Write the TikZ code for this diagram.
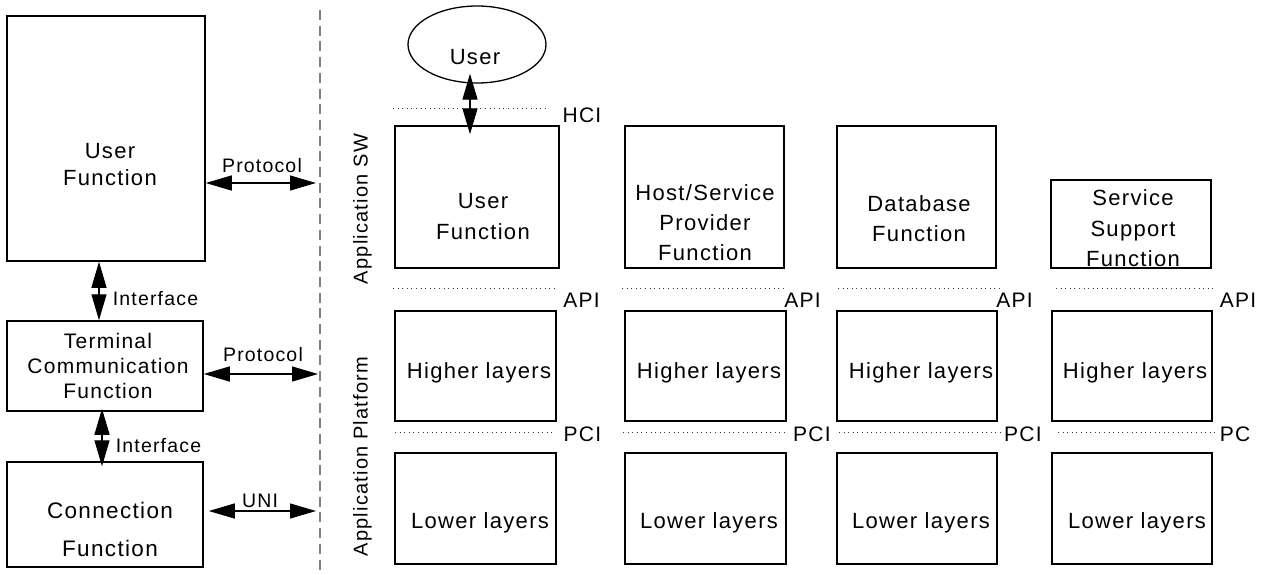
\documentclass[tikz,border=0pt]{standalone}
\usepackage{fontspec}
\setmainfont{Liberation Sans}[LetterSpace=6]
\usetikzlibrary{arrows.meta,shapes.geometric}

\newcommand\fsz[2]{\fontsize{#1pt}{#2pt}\selectfont}

\begin{document}
\begin{tikzpicture}[x=1pt,y=-1pt,
  box/.style={draw, line width=1.5pt, rectangle, inner sep=0pt},
  txt/.style={inner sep=0pt, align=center, font=\fsz{22}{30}},
  layer/.style={inner sep=0pt, anchor=base, font=\fsz{22}{24}},
  lbl/.style={inner sep=0pt, anchor=base, font=\fsz{19.5}{22}},
  iface/.style={inner sep=0pt, anchor=base, font=\fsz{21}{24}},
  side/.style={inner sep=0pt, rotate=90, font=\fsz{20}{24}},
  link/.style={line width=1.3pt, {Triangle[length=26pt,width=15pt]}-{Triangle[length=26pt,width=15pt]}},
  level/.style={line width=1pt, black!80, dash pattern=on 1pt off 3.6pt},
  divider/.style={line width=1.6pt, black!50, dash pattern=on 10pt off 5.7pt}
]
\fill[white] (0,0) rectangle (1264,574);
\useasboundingbox (0,0) rectangle (1264,574);

% ---- terminal side ----
\node[box, minimum width=198pt, minimum height=245pt] (uf) at (106,138.5) {};
\node[box, minimum width=196pt, minimum height=90pt]  (tc) at (105,366) {};
\node[box, minimum width=196pt, minimum height=105pt] (cf) at (105,514.5) {};

\node[txt, font=\fsz{22}{27}]   (uft) at (110,164.5) {User\\Function};
\node[txt, font=\fsz{21}{25}]   (tct) at (108,366)   {Terminal\\Communication\\Function};
\node[txt, font=\fsz{22.5}{38}] (cft) at (110,529)   {Connection\\Function};

\coordinate (pr1) at (316,183);
\coordinate (pr2) at (318,374);
\coordinate (uni) at (316,511);
\draw[link] (uf.east |- pr1) -- (pr1);
\draw[link] (tc.east |- pr2) -- (pr2);
\draw[link, shorten <=5pt] (cf.east |- uni) -- (uni);
\draw[link] ([xshift=-7pt]uf.south) -- ([xshift=-7pt]uf.south |- tc.north);
\draw[link, shorten <=-3pt, shorten >=-5pt] ([xshift=-3pt]tc.south) -- ([xshift=-3pt]tc.south |- cf.north);

\node[lbl] (lpr1) at (262,172.3) {Protocol};
\node[lbl] (lpr2) at (263,361)   {Protocol};
\node[lbl] (luni) at (260,507)   {UNI};
\node[lbl] (lif1) at (155.5,305.7) {Interface};
\node[lbl] (lif2) at (158.5,452)   {Interface};

% ---- divider ----
\draw[divider] (320,10) -- (320,574);

% ---- application side ----
\node[side] (appsw) at (362.5,209)   {Application SW};
\node[side] (appf)  at (362.5,456.5) {Application Platform};

\node[draw, ellipse, line width=1.3pt, minimum width=138pt, minimum height=77pt, inner sep=0pt] (user) at (477,44.5) {};
\node[layer] (usert) at (475,64.5) {User};

\node[box, minimum width=164pt, minimum height=142pt] (ruf) at (477,197) {};
\node[box, minimum width=159pt, minimum height=142pt] (hsp) at (704.5,197) {};
\node[box, minimum width=159pt, minimum height=142pt] (db)  at (916.5,197) {};
\node[box, minimum width=160pt, minimum height=88pt]  (ss)  at (1131,224) {};

\node[txt, font=\fsz{22}{31}]   (ruft) at (483,216.5) {User\\Function};
\node[txt]                      (hspt) at (705,223)   {Host/Service\\Provider\\Function};
\node[txt]                      (dbt)  at (919,219)   {Database\\Function};
\node[txt, font=\fsz{22}{30.5}] (sst)  at (1133,228.5) {Service\\Support\\Function};

\node[box, minimum width=161pt, minimum height=110pt] (hi1) at (475.5,366) {};
\node[box, minimum width=161pt, minimum height=110pt] (hi2) at (705.5,366) {};
\node[box, minimum width=160pt, minimum height=110pt] (hi3) at (917,366) {};
\node[box, minimum width=160pt, minimum height=110pt] (hi4) at (1132,366) {};
\node[layer] (hi1t) at (479,378)  {Higher layers};
\node[layer] (hi2t) at (709,378)  {Higher layers};
\node[layer] (hi3t) at (921,378)  {Higher layers};
\node[layer] (hi4t) at (1135,378) {Higher layers};

\node[box, minimum width=161pt, minimum height=111pt] (lo1) at (475.5,508.5) {};
\node[box, minimum width=161pt, minimum height=111pt] (lo2) at (705.5,508.5) {};
\node[box, minimum width=160pt, minimum height=111pt] (lo3) at (917,508.5) {};
\node[box, minimum width=160pt, minimum height=111pt] (lo4) at (1132,508.5) {};
\node[layer] (lo1t) at (480,528.5)  {Lower layers};
\node[layer] (lo2t) at (709,528.5)  {Lower layers};
\node[layer] (lo3t) at (921,528.5)  {Lower layers};
\node[layer] (lo4t) at (1137,528.5) {Lower layers};

\draw[link, shorten <=-10pt, shorten >=-9pt] ([xshift=-7pt]user.south) -- ([xshift=-7pt]user.south |- ruf.north);

% interface levels
\draw[level] (393,108) -- (548,108);
\node[iface] (hci) at (582,122.7) {HCI};

\draw[level] (393,288)  -- (555,288);
\draw[level] (622,288)  -- (785,288);
\draw[level] (838,288)  -- (1000,288);
\draw[level] (1056,288) -- (1217,288);
\node[iface] (api1) at (581.5,307)  {API};
\node[iface] (api2) at (802.5,307)  {API};
\node[iface] (api3) at (1014.5,307) {API};
\node[iface] (api4) at (1238,307)   {API};

\draw[level] (395,432)  -- (553,432);
\draw[level] (623,432)  -- (785,432);
\draw[level] (839,432)  -- (1003,432);
\draw[level] (1058,432) -- (1218,432);
\node[iface] (pci1) at (582.5,441.7) {PCI};
\node[iface] (pci2) at (812,441.7)   {PCI};
\node[iface] (pci3) at (1023,441.7)  {PCI};
\node[iface] (pci4) at (1235,441.7)  {PC};
\end{tikzpicture}
\end{document}
